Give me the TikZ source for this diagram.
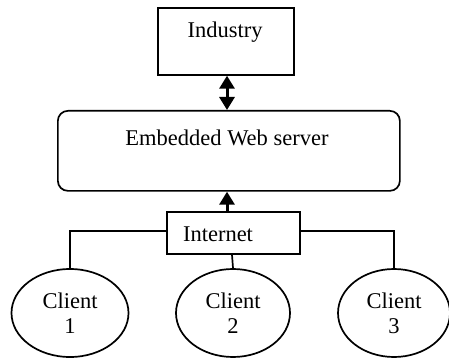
\documentclass[tikz,border=0pt]{standalone}
\usepackage{fontspec}
\setmainfont{Liberation Serif}
\usetikzlibrary{shapes.geometric,arrows.meta}
\begin{document}
\begin{tikzpicture}[x=1pt,y=-1pt,
  txt/.style={font=\fontsize{22.5}{25}\selectfont,inner sep=0pt},
  box/.style={draw,line width=1.7pt,inner sep=0pt},
  client/.style={draw,ellipse,line width=1.7pt,inner sep=0pt,align=center,font=\fontsize{22.5}{25}\selectfont},
  link/.style={line width=1.7pt},
  >={Triangle[length=13pt,width=15pt]},
  arr/.style={line width=3pt}]
\useasboundingbox (0,0) rectangle (449,358);
\node[box,minimum width=136pt,minimum height=67pt,anchor=north west] (ind) at (157,7) {};
\node[txt] at (225,32) {Industry};
\node[box,rounded corners=10pt,minimum width=342pt,minimum height=80pt,anchor=north west] (srv) at (57,110) {};
\node[txt] at (227,138) {Embedded Web server};
\node[box,minimum width=133pt,minimum height=42pt,anchor=north west] (net) at (166,211) {};
\node[txt] at (218,234) {Internet};
\node[client,minimum width=117pt,minimum height=88pt] (c1) at (70,313) {Client\\1};
\node[client,minimum width=114pt,minimum height=88pt] (c2) at (233,313) {Client\\2};
\node[client,minimum width=112pt,minimum height=88pt] (c3) at (394,313) {Client\\3};
\draw[arr,<->] (ind.south -| 227,0) -- (srv.north -| 227,0);
\draw[arr,->] (net.north -| 227,0) -- (srv.south -| 227,0);
\draw[link] (net.west |- 0,231) -| (c1.north);
\draw[link] (net.east |- 0,231) -| (c3.north);
\draw[link] (net.south -| 232,0) -- (c2.north);
\end{tikzpicture}
\end{document}
